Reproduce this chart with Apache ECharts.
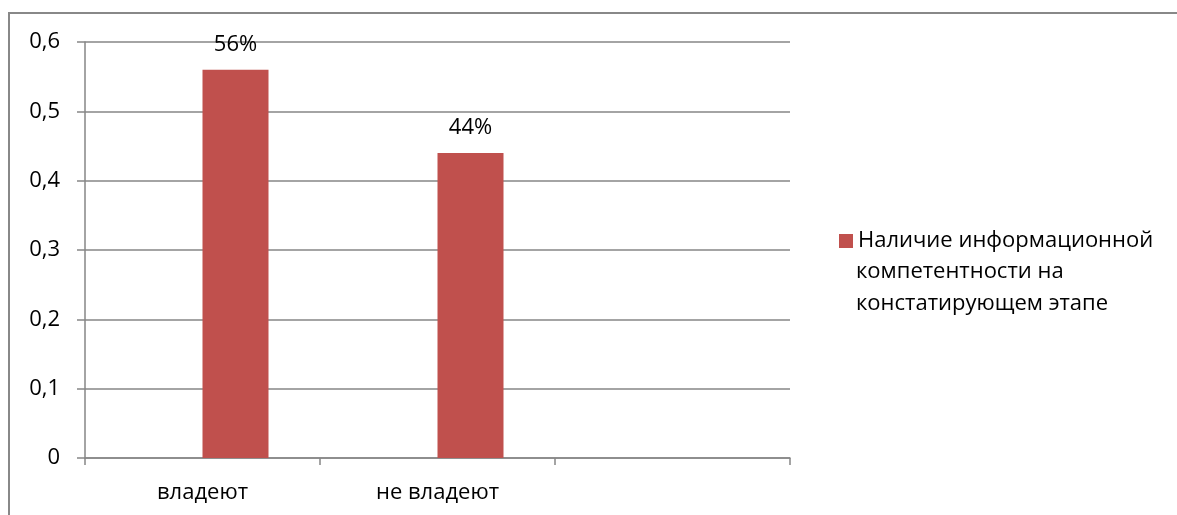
<!DOCTYPE html>
<html>
<head>
<meta charset="utf-8">
<script src="https://cdn.jsdelivr.net/npm/echarts@6/dist/echarts.min.js"></script>
<style>
html,body{margin:0;padding:0;background:#fff;overflow:hidden;}
#frame{position:absolute;left:8px;top:12px;width:1200px;height:600px;border:2px solid #888;box-sizing:border-box;}
#chart{position:absolute;left:0;top:0;width:1177px;height:515px;}
</style>
</head>
<body>
<div id="frame"></div>
<div id="chart"></div>
<script>
const categories = ['владеют', 'не владеют', ''];
const seriesNameLines = ['Наличие информационной', 'компетентности на', 'констатирующем этапе'];
const values = [0.56, 0.44, null];
const valueLabels = ['56%', '44%', ''];
const yTicks = { min: 0, max: 0.6, interval: 0.1 };

const seriesName = seriesNameLines[0];
const font = '"Open Sans", sans-serif';
const fs = 22;
const chart = echarts.init(document.getElementById('chart'), null, { renderer: 'canvas' });
chart.setOption({
  backgroundColor: 'transparent',
  animation: false,
  grid: { left: 85, right: 387, top: 42, bottom: 57, containLabel: false },
  legend: {
    data: [seriesName],
    orient: 'vertical',
    left: 834,
    top: 225,
    icon: 'rect',
    itemWidth: 14,
    itemHeight: 14,
    itemGap: 8,
    textStyle: { fontFamily: font, fontSize: fs, color: '#000' }
  },
  graphic: [{
    type: 'text', left: 856, top: 256,
    style: {
      text: seriesNameLines.slice(1).join('\n'),
      fontFamily: font, fontSize: fs, fill: '#000', lineHeight: 32
    }
  }],
  xAxis: {
    type: 'category',
    data: categories,
    axisLine: { lineStyle: { color: '#868686', width: 1.5 } },
    axisTick: { show: true, length: 7, lineStyle: { color: '#868686', width: 1.5 } },
    axisLabel: { fontFamily: font, fontSize: fs, color: '#000', margin: 24 }
  },
  yAxis: {
    type: 'value',
    min: yTicks.min, max: yTicks.max, interval: yTicks.interval,
    axisLine: { show: true, lineStyle: { color: '#868686', width: 1.5 } },
    axisTick: { show: true, length: 8, lineStyle: { color: '#868686', width: 1.5 } },
    splitLine: { lineStyle: { color: '#868686', width: 1.5 } },
    axisLabel: {
      fontFamily: font, fontSize: fs, color: '#000', margin: 25,
      formatter: v => String(Math.round(v * 10) / 10).replace('.', ',')
    }
  },
  series: [
    { type: 'bar', name: 'spacer', data: categories.map(() => null), barWidth: 66, barGap: '0%' },
    {
      type: 'bar', name: seriesName, data: values, barWidth: 66, barGap: '0%',
      itemStyle: { color: '#C0504D' },
      label: {
        show: true, position: 'top', distance: 14,
        fontFamily: font, fontSize: fs, color: '#000',
        formatter: p => valueLabels[p.dataIndex]
      }
    }
  ]
});
</script>
</body>
</html>
